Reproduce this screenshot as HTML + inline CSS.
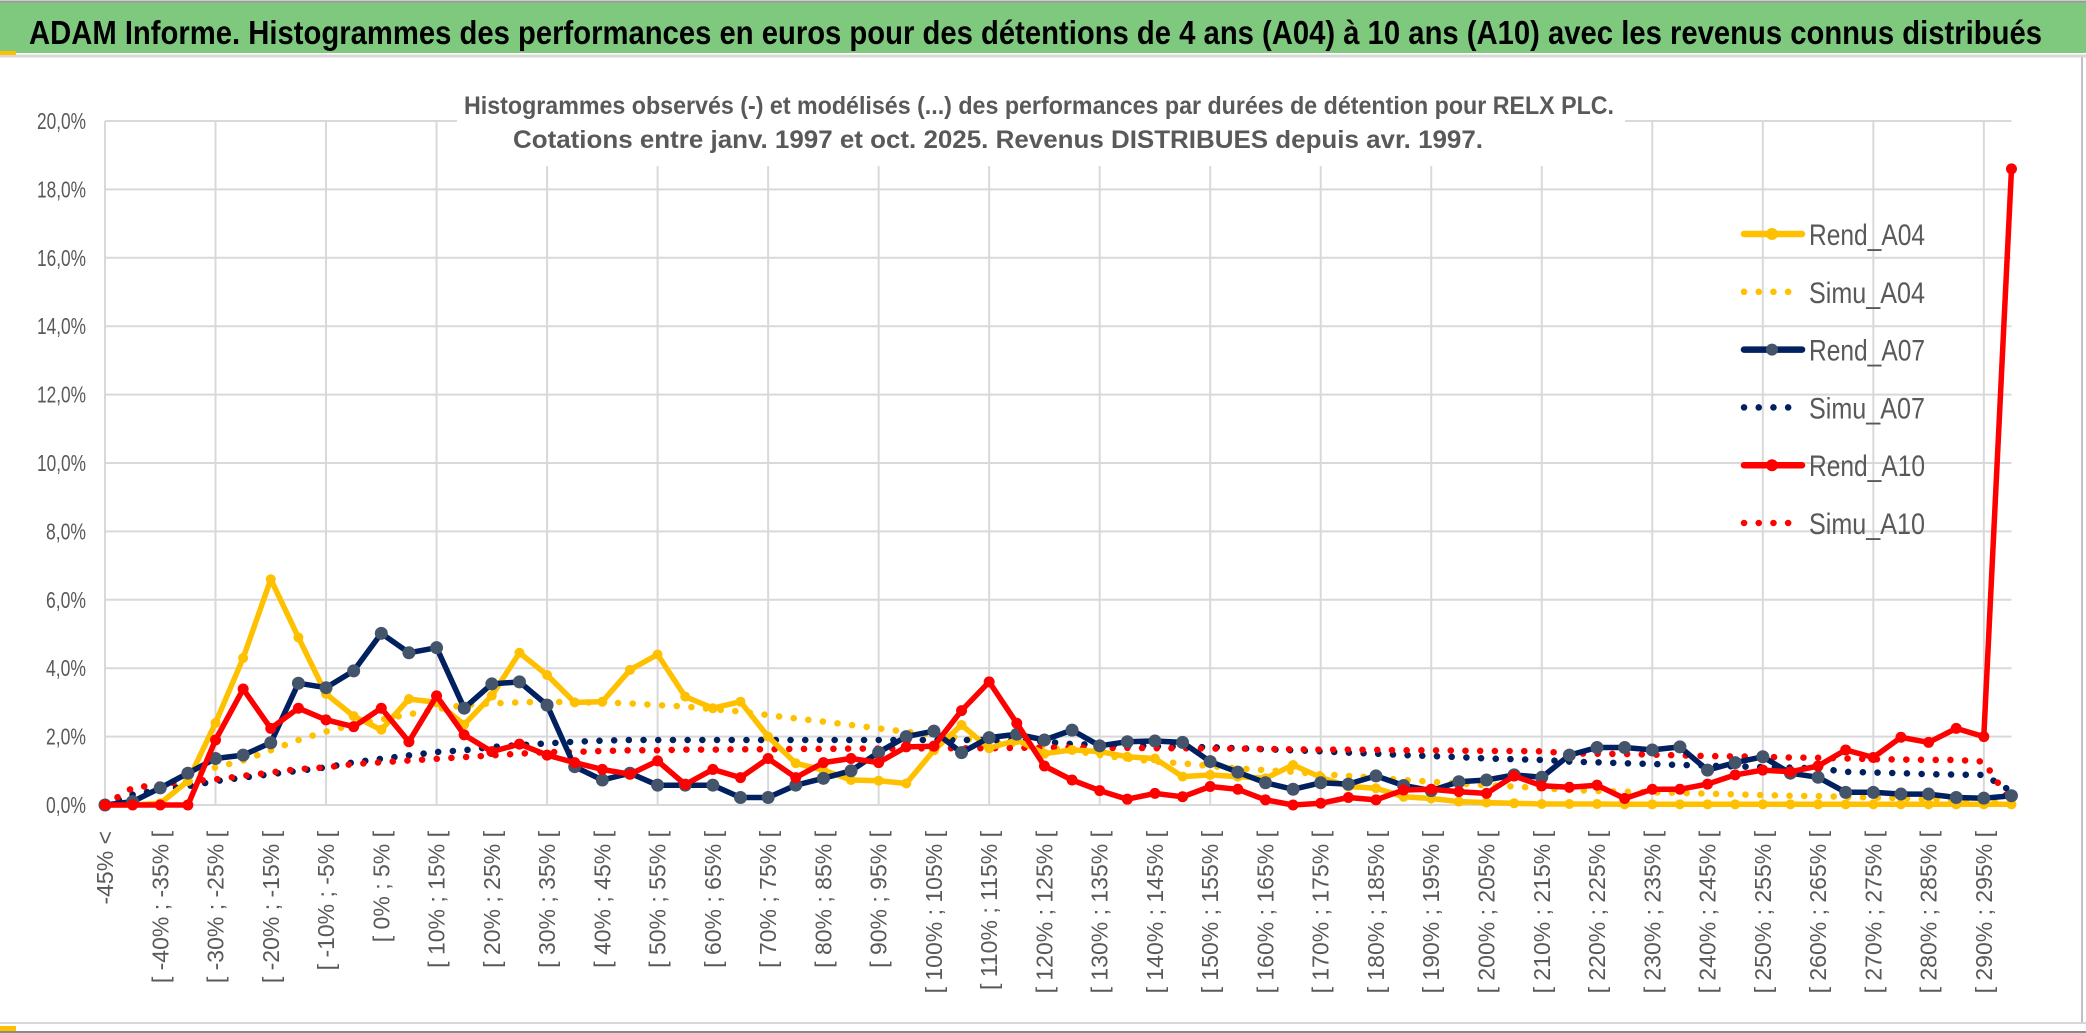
<!DOCTYPE html>
<html><head><meta charset="utf-8"><style>
html,body{margin:0;padding:0;background:#fff;}
svg{display:block;font-family:"Liberation Sans",sans-serif;}
</style></head><body>
<svg id="chart" width="2086" height="1033" viewBox="0 0 2086 1033" xmlns="http://www.w3.org/2000/svg">
<rect x="0" y="0" width="2086" height="1033" fill="#fff"/>
<rect x="0" y="2" width="2086" height="51" fill="#7FC97F"/>
<line x1="0" y1="1.5" x2="2086" y2="1.5" stroke="#9a9a9a" stroke-width="2"/>
<line x1="0" y1="56" x2="2086" y2="56" stroke="#d8d8d8" stroke-width="3"/>
<rect x="0" y="51" width="16" height="4" fill="#FFC000"/>
<text x="29" y="44" font-size="33" font-weight="bold" fill="#000" textLength="2013" lengthAdjust="spacingAndGlyphs">ADAM Informe. Histogrammes des performances en euros pour des détentions de 4 ans (A04) à 10 ans (A10) avec les revenus connus distribués</text>
<line x1="2082" y1="57" x2="2082" y2="1023" stroke="#c0c0c0" stroke-width="2"/>
<line x1="0" y1="1023" x2="2086" y2="1023" stroke="#d8d8d8" stroke-width="2"/>
<rect x="0" y="1026" width="16" height="5" fill="#FFC000"/>
<line x1="0" y1="1032" x2="2086" y2="1032" stroke="#8a8a8a" stroke-width="2"/>
<g id="grid"></g>
<rect x="457" y="78" width="1168" height="88" fill="#fff"/>
<text x="1039" y="114" font-size="25" font-weight="bold" fill="#595959" text-anchor="middle" textLength="1150" lengthAdjust="spacingAndGlyphs">Histogrammes observés (-) et modélisés (...) des performances par durées de détention pour RELX PLC.</text>
<text x="998" y="148" font-size="25" font-weight="bold" fill="#595959" text-anchor="middle" textLength="970" lengthAdjust="spacingAndGlyphs">Cotations entre janv. 1997 et oct. 2025. Revenus DISTRIBUES depuis avr. 1997.</text>
<g id="yaxis"></g>
<g id="xaxis"></g>
<g id="series"></g>
<g id="legend"></g>
</svg>
<script>
const yTicks = [0,2,4,6,8,10,12,14,16,18,20];
const categoryLows = [];
for (let k = -45; k <= 295; k += 5) categoryLows.push(k);
const rendA04 = [0,0,0.05,0.7,2.4,4.3,6.6,4.9,3.25,2.6,2.2,3.1,3.0,2.35,3.2,4.45,3.8,3.0,3.02,3.95,4.4,3.17,2.83,3.02,2.0,1.22,1.02,0.73,0.71,0.63,1.6,2.34,1.66,1.9,1.5,1.61,1.56,1.41,1.36,0.83,0.88,0.83,0.78,1.17,0.81,0.54,0.49,0.24,0.19,0.1,0.07,0.05,0.03,0.03,0.03,0.02,0.02,0.02,0.02,0.02,0.02,0.02,0.02,0.02,0.02,0.02,0.02,0.02,0.02,0.02];
const simuA04 = [0,0.5,0.6,0.8,1.1,1.3,1.6,1.9,2.15,2.35,2.5,2.65,2.8,2.92,2.97,3.0,3.02,3.0,3.0,2.97,2.92,2.88,2.8,2.73,2.63,2.53,2.44,2.34,2.24,2.14,2.05,1.95,1.85,1.78,1.7,1.6,1.46,1.36,1.27,1.22,1.14,1.07,1.02,0.97,0.9,0.85,0.8,0.73,0.68,0.63,0.58,0.54,0.49,0.44,0.41,0.39,0.37,0.35,0.33,0.31,0.29,0.27,0.26,0.24,0.22,0.2,0.17,0.15,0.12,0];
const rendA07 = [0,0.1,0.5,0.93,1.36,1.46,1.82,3.56,3.43,3.92,5.02,4.45,4.6,2.83,3.54,3.6,2.92,1.12,0.73,0.93,0.58,0.58,0.58,0.22,0.22,0.58,0.78,1.0,1.54,2.0,2.16,1.53,1.97,2.07,1.9,2.19,1.73,1.85,1.87,1.83,1.27,0.96,0.65,0.46,0.65,0.61,0.85,0.57,0.42,0.68,0.73,0.88,0.81,1.46,1.68,1.68,1.61,1.7,1.02,1.24,1.41,0.93,0.81,0.37,0.37,0.32,0.32,0.22,0.2,0.27];
const simuA07 = [0,0.3,0.45,0.55,0.7,0.8,0.9,1.0,1.1,1.25,1.35,1.45,1.55,1.6,1.7,1.75,1.8,1.85,1.88,1.9,1.9,1.9,1.9,1.9,1.9,1.9,1.9,1.9,1.9,1.9,1.9,1.9,1.9,1.88,1.85,1.78,1.76,1.74,1.72,1.7,1.69,1.66,1.63,1.6,1.57,1.53,1.5,1.46,1.43,1.4,1.36,1.34,1.32,1.27,1.25,1.22,1.2,1.17,1.15,1.13,1.11,1.09,1.07,0.97,0.95,0.93,0.9,0.89,0.88,0.4];
const rendA10 = [0,0,0,0,1.9,3.39,2.24,2.83,2.49,2.29,2.83,1.85,3.19,2.05,1.56,1.78,1.46,1.24,1.04,0.9,1.29,0.6,1.04,0.8,1.36,0.8,1.24,1.36,1.24,1.7,1.72,2.76,3.6,2.39,1.14,0.73,0.42,0.17,0.34,0.24,0.54,0.46,0.15,0.0,0.05,0.22,0.15,0.44,0.46,0.39,0.34,0.85,0.56,0.52,0.58,0.19,0.46,0.46,0.61,0.88,1.02,0.97,1.14,1.61,1.39,1.98,1.83,2.24,2.0,18.6];
const simuA10 = [0,0.5,0.6,0.7,0.75,0.85,0.95,1.05,1.1,1.2,1.25,1.3,1.35,1.4,1.45,1.5,1.55,1.55,1.58,1.6,1.6,1.62,1.62,1.63,1.63,1.64,1.64,1.65,1.65,1.65,1.66,1.66,1.66,1.67,1.68,1.68,1.67,1.67,1.66,1.66,1.65,1.65,1.64,1.63,1.62,1.62,1.61,1.6,1.6,1.59,1.58,1.58,1.57,1.51,1.5,1.49,1.47,1.45,1.43,1.42,1.41,1.39,1.38,1.36,1.34,1.33,1.32,1.32,1.27,0.05];
const seriesNames = ["Rend_A04","Simu_A04","Rend_A07","Simu_A07","Rend_A10","Simu_A10"];

const NS = "http://www.w3.org/2000/svg";
const X0 = 105, STEP = 27.63, Y0 = 805, PXPER = 34.2;
function xPos(i){ return X0 + STEP * i; }
function yPos(v){ return Y0 - PXPER * v; }
function mk(tag, attrs, parent){ const e = document.createElementNS(NS, tag); for (const k in attrs) e.setAttribute(k, attrs[k]); parent.appendChild(e); return e; }
const n = categoryLows.length + 1;
const xRight = xPos(n - 1);

const grid = document.getElementById('grid');
yTicks.forEach(t => {
  const l = mk('line', {x1: X0, x2: xRight, y1: yPos(t), y2: yPos(t), stroke: '#D9D9D9', 'stroke-width': 2}, grid);
  
  
});
for (let i = 0; i < n; i += 4) {
  const l = mk('line', {x1: xPos(i), x2: xPos(i), y1: yPos(20), y2: yPos(0), stroke: '#D9D9D9', 'stroke-width': 2}, grid);
  
  
}

const yax = document.getElementById('yaxis');
yTicks.forEach(t => {
  const s = t.toFixed(1).replace('.', ',') + '%';
  const tx = mk('text', {x: 86, y: yPos(t) + 8, 'font-size': 23, fill: '#595959', 'text-anchor': 'end', textLength: t >= 10 ? 49 : 40, lengthAdjust: 'spacingAndGlyphs'}, yax);
  tx.textContent = s;
  
  
});

const xax = document.getElementById('xaxis');
for (let i = 0; i < n; i += 2) {
  let s;
  if (i === 0) s = '-45% <';
  else { const lo = categoryLows[i - 1]; s = '[ ' + lo + '% ; ' + (lo + 5) + '% ['; }
  const x = xPos(i) + 8, y = 831;
  const tx = mk('text', {x: x, y: y, 'font-size': 23, fill: '#595959', 'text-anchor': 'end', transform: 'rotate(-90 ' + x + ' ' + y + ')'}, xax);
  tx.textContent = s;
  
  
}

const ser = document.getElementById('series');
function pts(arr){ return arr.map((v, i) => xPos(i).toFixed(1) + ',' + yPos(v).toFixed(1)).join(' '); }
function dotted(arr, color, name){
  const p = mk('polyline', {points: pts(arr), fill: 'none', stroke: color, 'stroke-width': 6.5, 'stroke-linecap': 'round', 'stroke-dasharray': '0.1 14.6'}, ser);
  
  
}
function solid(arr, color, mcolor, r, name){
  const g = mk('g', {}, ser);
  
  
  const p = mk('polyline', {points: pts(arr), fill: 'none', stroke: color, 'stroke-width': 5.5, 'stroke-linejoin': 'round'}, g);
  
  
  arr.forEach((v, i) => {
    const c = mk('circle', {cx: xPos(i), cy: yPos(v), r: r, fill: mcolor}, g);
    
    
  });
}
dotted(simuA04, '#FFC000', 'simu-a04-line');
dotted(simuA07, '#002060', 'simu-a07-line');
dotted(simuA10, '#FF0000', 'simu-a10-line');
solid(rendA04, '#FFC000', '#FFC000', 5, 'rend-a04-series');
solid(rendA07, '#002060', '#44546A', 6.5, 'rend-a07-series');
solid(rendA10, '#FF0000', '#FF0000', 5.5, 'rend-a10-series');

const leg = document.getElementById('legend');
const legColors = ['#FFC000','#FFC000','#002060','#002060','#FF0000','#FF0000'];
const legMarker = ['#FFC000',null,'#44546A',null,'#FF0000',null];
seriesNames.forEach((nm, k) => {
  const y = 234 + 57.8 * k;
  const g = mk('g', {}, leg);
  
  
  if (k % 2 === 0) {
    mk('line', {x1: 1744, x2: 1802, y1: y, y2: y, stroke: legColors[k], 'stroke-width': 6.5, 'stroke-linecap': 'round'}, g);
    mk('circle', {cx: 1772, cy: y, r: 6, fill: legMarker[k]}, g);
  } else {
    mk('line', {x1: 1744, x2: 1802, y1: y, y2: y, stroke: legColors[k], 'stroke-width': 6.5, 'stroke-linecap': 'round', 'stroke-dasharray': '0.1 14.6'}, g);
  }
  const t = mk('text', {x: 1809, y: y + 11, 'font-size': 30, fill: '#595959', textLength: 116, lengthAdjust: 'spacingAndGlyphs'}, g);
  t.textContent = nm;
  
  
});
</script>
</body></html>
